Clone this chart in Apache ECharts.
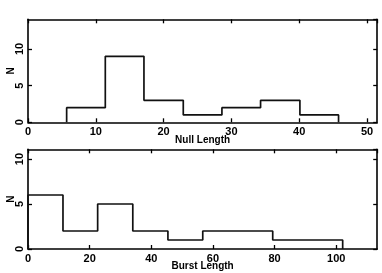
<!DOCTYPE html>
<html><head><meta charset="utf-8">
<script src="https://cdn.jsdelivr.net/npm/echarts@6/dist/echarts.min.js"></script>
<style>html,body{margin:0;padding:0;background:#fff}#c{width:382px;height:273px}</style>
</head><body><div id="c"></div>
<script>
// Null length histogram
const nullEdges = [5.7, 11.4, 17.1, 22.9, 28.6, 34.3, 40.1, 45.8];
const nullCounts = [2, 9, 3, 1, 2, 3, 1];
// Burst length histogram
const burstEdges = [0, 11.35, 22.6, 34.0, 45.4, 56.7, 68.0, 79.4, 90.7, 102.1];
const burstCounts = [6, 2, 5, 2, 1, 2, 2, 1, 1];
const nullTicks = ['0', '10', '20', '30', '40', '50'];
const burstTicks = ['0', '20', '40', '60', '80', '100'];
const nTicks = ['0', '5', '10'];

function stepPoints(edges, counts) {
  const pts = [[edges[0], 0]];
  for (let i = 0; i < counts.length; i++) {
    pts.push([edges[i], counts[i]]);
    pts.push([edges[i + 1], counts[i]]);
  }
  pts.push([edges[edges.length - 1], 0]);
  return pts;
}
function fmt(list) {
  return function (v) {
    const s = String(Math.round(v));
    return list.indexOf(s) >= 0 ? s : '';
  };
}

const font = 'Liberation Sans, Arial, sans-serif';
const lab = {color: '#000', fontFamily: font, fontWeight: 'bold', fontSize: 11};
function xAx(gi, max, interval, name, main, ticks, gap) {
  return {
    type: 'value', gridIndex: gi, min: 0, max: max, interval: interval,
    position: main ? 'bottom' : 'top',
    name: main ? name : '', nameLocation: 'middle', nameGap: gap, nameMoveOverlap: false,
    nameTextStyle: {color: '#000', fontFamily: font, fontWeight: 'bold', fontSize: 10},
    axisLine: {show: true, onZero: false, lineStyle: {color: '#000', width: 1.6}},
    axisTick: {show: true, inside: true, length: 4, lineStyle: {color: '#000', width: 1.3}},
    axisLabel: main ? Object.assign({margin: 4, showMaxLabel: false, formatter: fmt(ticks)}, lab) : {show: false},
    splitLine: {show: false}
  };
}
function yAx(gi, max, main) {
  return {
    type: 'value', gridIndex: gi, min: 0, max: max, interval: 5,
    position: main ? 'left' : 'right',
    name: main ? 'N' : '', nameLocation: 'middle', nameGap: 12, nameRotate: 90, nameMoveOverlap: false,
    nameTextStyle: {color: '#000', fontFamily: font, fontWeight: 'bold', fontSize: 10},
    axisLine: {show: true, onZero: false, lineStyle: {color: '#000', width: 1.6}},
    axisTick: {show: true, inside: true, length: 4, lineStyle: {color: '#000', width: 1.3}},
    axisLabel: main ? Object.assign({margin: 3, rotate: 90, showMaxLabel: false, formatter: fmt(nTicks)}, lab) : {show: false},
    splitLine: {show: false}
  };
}

const chart = echarts.init(document.getElementById('c'), null, {renderer: 'canvas'});
chart.setOption({
  animation: false,
  grid: [
    {left: 28, top: 19.3, width: 349.2, height: 103, containLabel: false, outerBoundsMode: 'none'},
    {left: 28, top: 149.3, width: 349.2, height: 99.7, containLabel: false, outerBoundsMode: 'none'}
  ],
  xAxis: [
    xAx(0, 51.5, 10, 'Null Length', true, nullTicks, 13),
    xAx(0, 51.5, 10, '', false, nullTicks, 13),
    xAx(1, 113.3, 20, 'Burst Length', true, burstTicks, 12),
    xAx(1, 113.3, 20, '', false, burstTicks, 12)
  ],
  yAxis: [
    yAx(0, 14.05, true),
    yAx(0, 14.05, false),
    yAx(1, 11.08, true),
    yAx(1, 11.08, false)
  ],
  series: [
    {type: 'line', xAxisIndex: 0, yAxisIndex: 0, data: stepPoints(nullEdges, nullCounts),
     showSymbol: false, lineStyle: {color: '#111', width: 1.7}},
    {type: 'line', xAxisIndex: 2, yAxisIndex: 2, data: stepPoints(burstEdges, burstCounts),
     showSymbol: false, lineStyle: {color: '#111', width: 1.7}}
  ]
});
</script></body></html>
